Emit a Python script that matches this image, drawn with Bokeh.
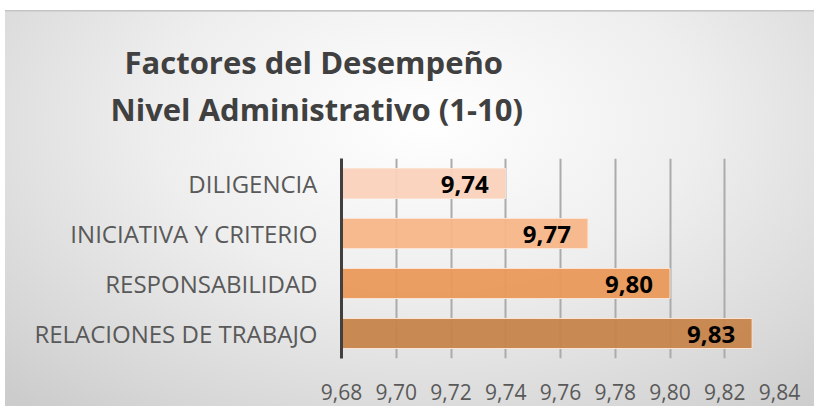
from bokeh.plotting import figure
from bokeh.models import (FactorRange, Range1d, FixedTicker, Title, ColumnDataSource,
                          InlineStyleSheet)
from bokeh.core.properties import value
from bokeh.embed import file_html
from bokeh.resources import INLINE

# ---- data ----
categories = ["RELACIONES DE TRABAJO", "RESPONSABILIDAD", "INICIATIVA Y CRITERIO", "DILIGENCIA"]
values = [9.83, 9.80, 9.77, 9.74]
colors = ["#c7844b", "#ea9959", "#f7b588", "#fbd2bd"]
ticks = [9.68, 9.70, 9.72, 9.74, 9.76, 9.78, 9.80, 9.82, 9.84]
tick_labels = {t: f"{t:.2f}".replace(".", ",") for t in ticks}
bar_labels = [f"{v:.2f}".replace(".", ",") for v in values]
title_lines = ["Factores del Desempeño", "Nivel Administrativo (1-10)"]

FONT = "Open Sans"

css = InlineStyleSheet(css="""
:host {
  background:
    linear-gradient(#bdbdbd, #d9d9d9) 5px 10px / calc(100% - 5px) 2px no-repeat,
    radial-gradient(ellipse 75% 95% at 52% 28%, #ffffff 0%, #eeeeee 45%, #d6d6d6 85%, #cccccc 100%) 5px 11px / calc(100% - 5px) calc(100% - 11px) no-repeat,
    #ffffff;
}
""")

p = figure(width=814, height=406, output_backend="svg", toolbar_location=None,
           y_range=FactorRange(factors=categories, range_padding=0),
           x_range=Range1d(ticks[0], ticks[-1]),
           min_border_left=341, min_border_right=35, min_border_top=158, min_border_bottom=48,
           border_fill_color=None, background_fill_color=None, outline_line_color=None,
           stylesheets=[css])

src = ColumnDataSource(dict(cat=categories, val=values, col=colors, lab=bar_labels))
p.hbar(y="cat", left=ticks[0], right="val", height=0.6, fill_color="col", fill_alpha=0.95,
       line_color="#fbe3d3", line_width=1, source=src)
p.text(x="val", y="cat", text="lab", text_align="right", text_baseline="middle",
       x_offset=-17, y_offset=1, text_font=value(FONT), text_font_style="bold",
       text_font_size="24px", text_color="#000000", source=src)

# axes
p.xaxis.ticker = FixedTicker(ticks=ticks)
p.xaxis.major_label_overrides = tick_labels
p.xaxis.axis_line_color = None
p.xaxis.major_tick_line_color = None
p.xaxis.minor_tick_line_color = None
p.xaxis.major_label_text_font = FONT
p.xaxis.major_label_text_font_size = "21px"
p.xaxis.major_label_text_color = "#595959"
p.xaxis.major_label_standoff = 19

p.yaxis.axis_line_color = "#404040"
p.yaxis.axis_line_width = 3
p.yaxis.major_tick_line_color = None
p.yaxis.minor_tick_line_color = None
p.yaxis.major_label_text_font = FONT
p.yaxis.major_label_text_font_size = "24px"
p.yaxis.major_label_text_color = "#595959"
p.yaxis.major_label_standoff = 18

p.xgrid.grid_line_color = "#ababab"
p.xgrid.grid_line_width = 2
p.xgrid.ticker = FixedTicker(ticks=ticks)
p.ygrid.grid_line_color = None

# two-line title in the top panel (first added = closest to the frame)
p.add_layout(Title(text=title_lines[1], align="left", offset=-231, standoff=55,
                   vertical_align="middle",
                   text_font=FONT, text_font_style="bold", text_font_size="31px",
                   text_color="#404040"), "above")
p.add_layout(Title(text=title_lines[0], align="left", offset=-217, standoff=-46,
                   text_font=FONT, text_font_style="bold", text_font_size="31px",
                   text_color="#404040"), "above")

open("out.html", "w").write(file_html(p, INLINE))
